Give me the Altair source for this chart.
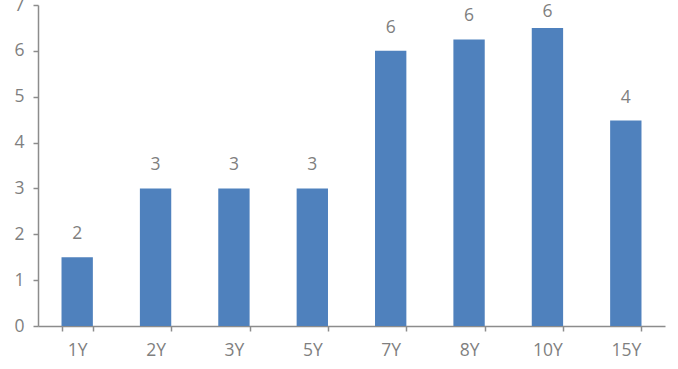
import altair as alt
import pandas as pd

categories = ["1Y", "2Y", "3Y", "5Y", "7Y", "8Y", "10Y", "15Y"]
values = [1.5, 3.0, 3.0, 3.0, 6.0, 6.25, 6.5, 4.48]
labels = ["2", "3", "3", "3", "6", "6", "6", "4"]

df = pd.DataFrame({"cat": categories, "val": values, "lab": labels})

FONT = "Open Sans"
GREY = "#7f7f7f"
AXIS = "#8c8c8c"

x = alt.X("cat:N", sort=categories, title=None,
          scale=alt.Scale(paddingInner=0.6, paddingOuter=0.3),
          axis=alt.Axis(labelAngle=0, tickBand="extent", domainColor=AXIS,
                        tickColor=AXIS, tickSize=5, labelPadding=10,
                        labelFont=FONT, labelFontSize=17.5, labelColor=GREY,
                        domainWidth=1.5, tickWidth=1.5))
y = alt.Y("val:Q", title=None,
          scale=alt.Scale(domain=[0, 7], nice=False),
          axis=alt.Axis(values=[0, 1, 2, 3, 4, 5, 6, 7], grid=False,
                        domainColor=AXIS, tickColor=AXIS, tickSize=5,
                        labelPadding=9, labelFont=FONT, labelFontSize=17.5,
                        labelColor=GREY, domainWidth=1.5, tickWidth=1.5,
                        labelBaseline="middle"))

bars = alt.Chart(df).mark_bar(color="#4F81BD").encode(x=x, y=y)
# labels sit above each bar, but are kept inside the plot area (as Excel does)
text = alt.Chart(df).transform_calculate(
    ly="min(datum.val, 6.35)"
).mark_text(baseline="alphabetic", dy=-18, font=FONT,
            fontSize=17.5, color=GREY).encode(
    x=alt.X("cat:N", sort=categories), y="ly:Q", text="lab:N")

chart = (bars + text).properties(
    width=627, height=321,
    autosize=alt.AutoSizeParams(type="none"),
    padding={"left": 38, "top": 5, "right": 13, "bottom": 43},
    background="white",
).configure_view(stroke=None)

chart.save("out.html", embed_options={"renderer": "svg", "actions": False})
